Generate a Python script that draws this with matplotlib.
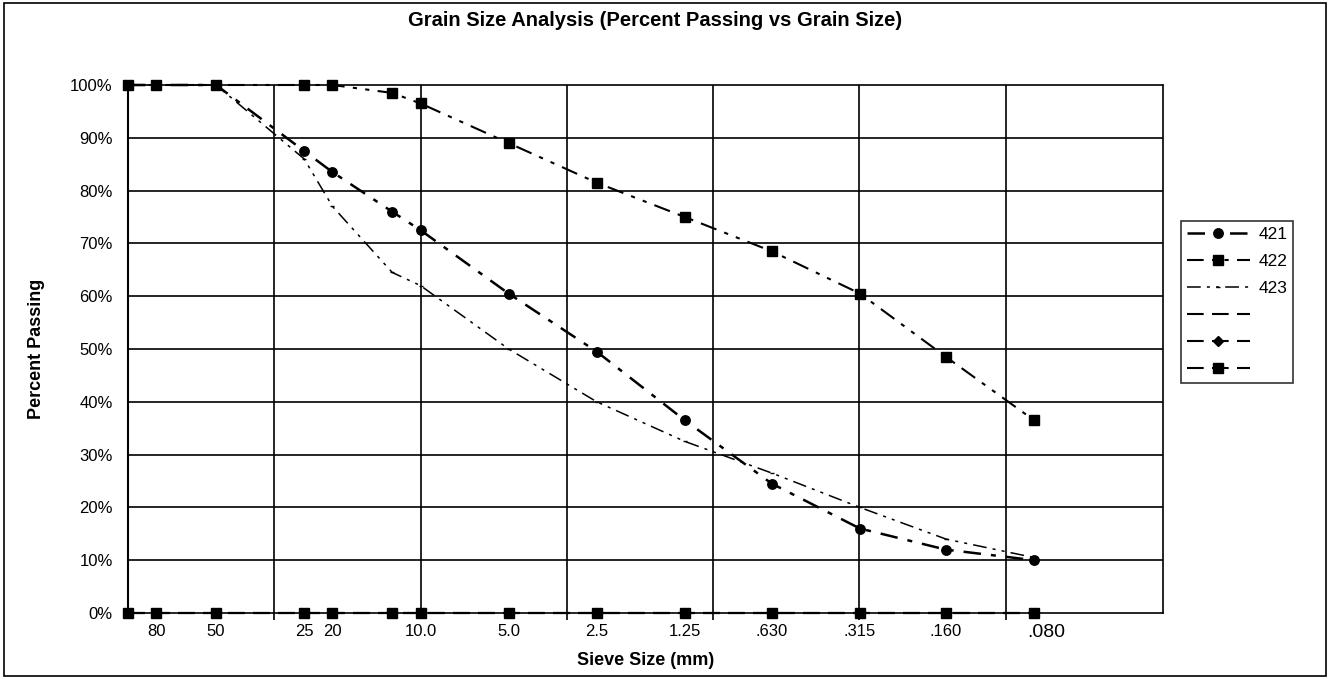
import matplotlib
matplotlib.use("Agg")
import matplotlib.pyplot as plt
from matplotlib.patches import Rectangle
from matplotlib.transforms import ScaledTranslation
from matplotlib.ticker import FixedLocator, FixedFormatter, NullFormatter, PercentFormatter

plt.rcParams["font.family"] = ["Liberation Sans", "DejaVu Sans"]

# sieve sizes (mm), coarse to fine
sieve = [100, 80, 50, 25, 20, 12.5, 10, 5, 2.5, 1.25, 0.63, 0.315, 0.16, 0.08]
tick_sizes = [80, 50, 25, 20, 10, 5, 2.5, 1.25, 0.63, 0.315, 0.16, 0.08]
tick_labels = ["80", "50", "25", "20", "10.0", "5.0", "2.5", "1.25", ".630", ".315", ".160", ".080"]

# percent passing
s421 = [100, 100, 100, 87.5, 83.5, 76, 72.5, 60.5, 49.5, 36.5, 24.5, 16, 12, 10]
s422 = [100, 100, 100, 100, 100, 98.5, 96.5, 89, 81.5, 75, 68.5, 60.5, 48.5, 36.5]
s423 = [100, 100, 100, 86, 77, 64.5, 62, 50, 40, 32.5, 26.5, 20, 14, 10.5]
empty = [0] * len(sieve)

grid_x = [10 ** 1.5, 10, 10 ** 0.5, 1, 10 ** -0.5, 0.1]

W, H = 1330, 679
fig = plt.figure(figsize=(W / 100, H / 100), dpi=100)
ax = fig.add_axes([128 / W, 1 - 613 / H, 1035 / W, 528 / H])

ax.set_xscale("log")
ax.set_xlim(100, 0.029)
ax.set_ylim(0, 100)

for g in grid_x:
    ax.axvline(g, color="black", lw=1.2, zorder=1)
for y in range(10, 100, 10):
    ax.axhline(y, color="black", lw=1.2, zorder=1)

ax.plot(sieve, s421, color="black", lw=1.8, dashes=(7, 4, 2, 4),
        marker="o", ms=6.8, label="421", zorder=3, clip_on=False)
ax.plot(sieve, s422, color="black", lw=1.5, dashes=(8, 4, 2, 4, 2, 4),
        marker="s", ms=7, label="422", zorder=4, clip_on=False)
ax.plot(sieve, s423, color="black", lw=1.1, dashes=(9, 4, 2, 4, 2, 4),
        marker="_", ms=3, label="423", zorder=3, clip_on=False)
ax.plot(sieve, empty, color="black", lw=1.5, dashes=(8, 4), label=" ",
        zorder=2, clip_on=False)
ax.plot(sieve, empty, color="black", lw=1.5, dashes=(8, 4),
        marker="D", ms=5.5, label=" ", zorder=2, clip_on=False)
ax.plot(sieve, empty, color="black", lw=1.5, dashes=(8, 4),
        marker="s", ms=7, label=" ", zorder=2, clip_on=False)

ax.yaxis.set_major_locator(FixedLocator(range(0, 101, 10)))
ax.yaxis.set_major_formatter(PercentFormatter(decimals=0))
ax.tick_params(axis="y", length=0, labelsize=12, pad=11)

ax.xaxis.set_major_locator(FixedLocator(tick_sizes))
ax.xaxis.set_major_formatter(FixedFormatter(tick_labels))
ax.xaxis.set_minor_locator(FixedLocator(grid_x))
ax.xaxis.set_minor_formatter(NullFormatter())
ax.tick_params(axis="x", which="major", length=0, labelsize=12, pad=8)
ax.tick_params(axis="x", which="minor", length=5, width=1.2, direction="out")

# the last sieve label is printed larger and a little to the right
last = ax.get_xticklabels()[-1]
last.set_fontsize(14)
last.set_transform(last.get_transform() + ScaledTranslation(12 / 100, 0, fig.dpi_scale_trans))

for side in ["top", "right", "bottom"]:
    ax.spines[side].set_linestyle((0, (1.5, 1)))
    ax.spines[side].set_linewidth(1.2)
ax.spines["left"].set_linewidth(1.5)

fig.text(655 / W, 1 - 20 / H, "Grain Size Analysis (Percent Passing vs Grain Size)",
         fontsize=14.5, fontweight="bold", ha="center", va="center")
ax.set_xlabel("Sieve Size (mm)", fontsize=13, fontweight="bold")
ax.xaxis.set_label_coords(0.5, -(652 - 613) / 528)
ax.set_ylabel("Percent Passing", fontsize=13, fontweight="bold")
ax.yaxis.set_label_coords(-(128 - 45) / 1035, 0.5)

leg = ax.legend(loc="upper left", bbox_to_anchor=(1181 / W, 1 - 221 / H),
                bbox_transform=fig.transFigure, fontsize=12.5, frameon=True,
                fancybox=False, edgecolor="black", handlelength=3.6,
                handletextpad=0.5, labelspacing=0.68, borderpad=0.35,
                borderaxespad=0)
leg.get_frame().set_linewidth(1.2)

fig.patches.append(Rectangle((0.003, 0.005), 0.994, 0.99, transform=fig.transFigure,
                             fill=False, edgecolor="black", lw=1.2))

fig.savefig("out.png", dpi=100)
